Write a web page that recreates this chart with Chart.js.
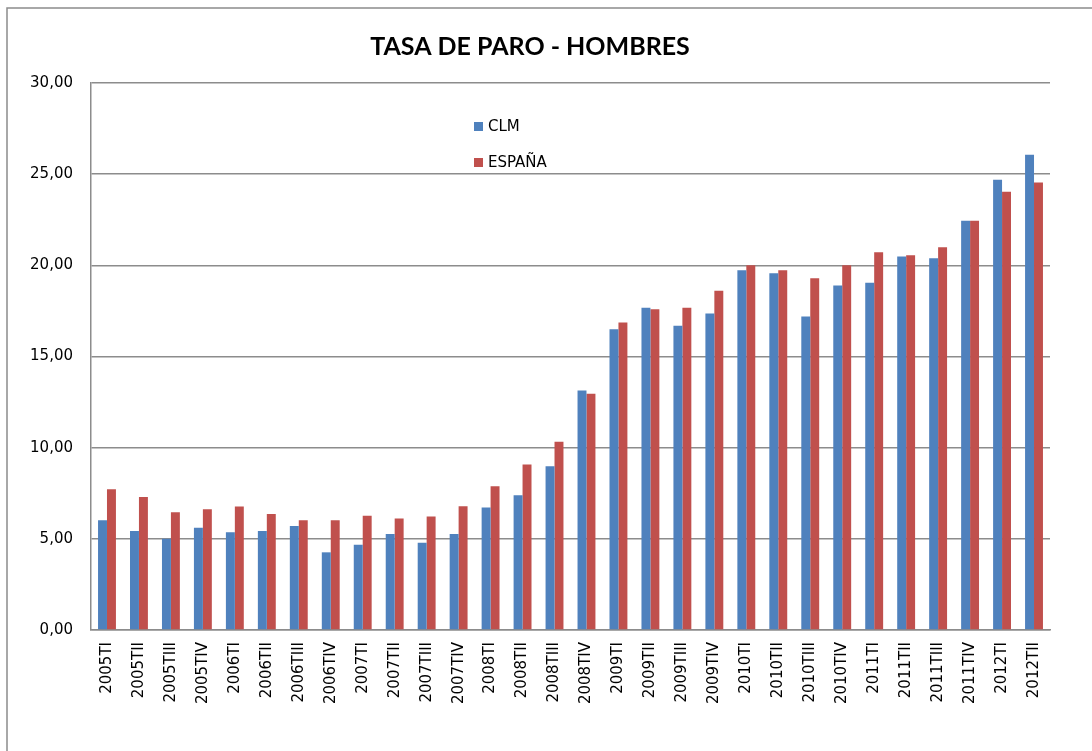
<!DOCTYPE html>
<html>
<head>
<meta charset="utf-8">
<script src="https://cdn.jsdelivr.net/npm/chart.js@4.4.1/dist/chart.umd.min.js"></script>
<style>
html,body{margin:0;padding:0;background:#fff;}
#wrap{width:1092px;height:751px;position:relative;}
canvas{display:block;}
</style>
</head>
<body>
<div id="wrap"><canvas id="c" width="1092" height="751"></canvas></div>
<script>
const title = 'TASA DE PARO - HOMBRES';
const categories = ['2005TI','2005TII','2005TIII','2005TIV','2006TI','2006TII','2006TIII','2006TIV',
  '2007TI','2007TII','2007TIII','2007TIV','2008TI','2008TII','2008TIII','2008TIV',
  '2009TI','2009TII','2009TIII','2009TIV','2010TI','2010TII','2010TIII','2010TIV',
  '2011TI','2011TII','2011TIII','2011TIV','2012TI','2012TII'];
const seriesNames = ['CLM','ESPAÑA'];
const clm = [6.02,5.43,5.01,5.61,5.36,5.43,5.70,4.26,4.68,5.27,4.79,5.27,6.72,7.39,8.98,13.13,
  16.49,17.68,16.68,17.36,19.73,19.56,17.19,18.89,19.05,20.48,20.39,22.44,24.70,26.06];
const espana = [7.72,7.30,6.46,6.62,6.78,6.36,6.02,6.02,6.27,6.11,6.22,6.79,7.88,9.07,10.33,12.96,
  16.86,17.59,17.68,18.61,20.00,19.73,19.29,20.00,20.72,20.55,20.99,22.44,24.03,24.54];
const yTickValues = [0,5,10,15,20,25,30];
const yTickLabels = ['0,00','5,00','10,00','15,00','20,00','25,00','30,00'];

const colors = ['#4F81BD','#C0504D'];

const decor = {
  id:'decor',
  afterDraw(chart){
    const ctx = chart.ctx;
    ctx.save();
    // outer frame
    ctx.strokeStyle = '#8c8c8c';
    ctx.lineWidth = 1.5;
    ctx.strokeRect(7, 8, 1100, 760);
    // title
    ctx.fillStyle = '#000';
    ctx.font = 'bold 25px Lato, "DejaVu Sans", sans-serif';
    ctx.textAlign = 'center';
    ctx.textBaseline = 'middle';
    ctx.fillText(title, 530, 47);
    // legend
    ctx.font = '15px "DejaVu Sans", sans-serif';
    ctx.textAlign = 'left';
    const ys = [126, 162];
    chart.data.datasets.forEach((ds, i) => {
      ctx.fillStyle = ds.backgroundColor;
      ctx.fillRect(474, ys[i]-4, 9, 9);
      ctx.fillStyle = '#000';
      ctx.fillText(ds.label, 488, ys[i]+1);
    });
    ctx.restore();
  }
};

new Chart(document.getElementById('c'), {
  type:'bar',
  data:{
    labels: categories,
    datasets:[
      {label: seriesNames[0], data: clm, backgroundColor: colors[0], borderWidth:0},
      {label: seriesNames[1], data: espana, backgroundColor: colors[1], borderWidth:0}
    ]
  },
  options:{
    responsive:false,
    animation:false,
    devicePixelRatio:1,
    layout:{padding:{left:0,top:83,right:42,bottom:0}},
    plugins:{legend:{display:false}, title:{display:false}, tooltip:{enabled:false}},
    datasets:{bar:{categoryPercentage:0.56, barPercentage:1.0}},
    scales:{
      x:{
        grid:{display:false, drawTicks:false},
        border:{display:true, color:'#8c8c8c', width:1.5},
        ticks:{color:'#000', font:{family:'"DejaVu Sans", sans-serif', size:15}, maxRotation:90, minRotation:90, padding:12, autoSkip:false},
        afterFit(s){ s.height = 121; }
      },
      y:{
        min:0, max:30,
        afterBuildTicks(s){ s.ticks = yTickValues.map(v=>({value:v})); },
        grid:{color:'#8c8c8c', lineWidth:1.5, drawTicks:false},
        border:{display:true, color:'#8c8c8c', width:1.5},
        ticks:{color:'#000', font:{family:'"DejaVu Sans", sans-serif', size:15}, padding:18,
          callback(v){ const i = yTickValues.indexOf(v); return i>=0 ? yTickLabels[i] : ''; }},
        afterFit(s){ s.width = 91; }
      }
    }
  },
  plugins:[decor]
});
</script>
</body>
</html>
